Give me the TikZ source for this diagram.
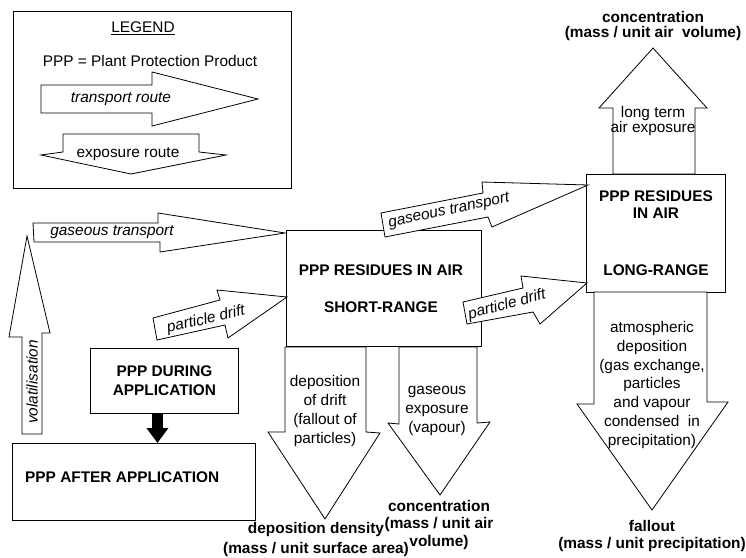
\documentclass[tikz,border=0pt]{standalone}
\usepackage{fontspec}
\setmainfont{Liberation Sans}
\usetikzlibrary{arrows.meta}
\begin{document}
\begin{tikzpicture}[x=1pt,y=-1pt,
  every node/.style={font=\fontsize{15.4}{19}\selectfont, inner sep=0pt, align=center},
  box/.style={draw, line width=0.9pt, fill=white},
  barrow/.style={draw, line width=0.8pt, fill=white, line join=miter},
  itl/.style={font=\fontsize{15.4}{19}\selectfont\itshape},
  bld/.style={font=\fontsize{15.4}{19}\selectfont\bfseries},
]
\useasboundingbox (0,0) rectangle (746,557);

% ---------- legend ----------
\node[box, minimum width=278, minimum height=177, anchor=north west] (legend) at (13,11) {};
\node (legtitle) at (143,28) {\underline{LEGEND}};
\node (legppp) at (150,61) {PPP = Plant Protection Product};
\draw[barrow] (41,85) -- (152,85) -- (152,72) -- (258,99) -- (152,126) -- (152,113) -- (41,113) -- cycle;
\node[itl] (legtr) at (121,99) {transport route};
\draw[barrow] (63,134) -- (199,134) -- (199,152) -- (226,155) -- (131,174) -- (41,155) -- (63,152) -- cycle;
\node (legex) at (128,154) {exposure route};

% ---------- boxes ----------
\node[box, minimum width=195, minimum height=116, anchor=north west] (sr) at (286,230) {};
\node[bld, font=\fontsize{15.4}{37}\selectfont\bfseries] (srtext) at ([xshift=-3pt]sr.center) {PPP RESIDUES IN AIR\\SHORT-RANGE};
\node[box, bld, minimum width=139, minimum height=118, anchor=north west,
      font=\fontsize{15.4}{16.5}\selectfont\bfseries] (lr) at (586,174) {PPP RESIDUES\\IN AIR\\[41pt]LONG-RANGE};
\node[box, bld, minimum width=148, minimum height=65, anchor=north west] (during) at (90,348) {PPP DURING\\APPLICATION};
\node[box, minimum width=243, minimum height=77, anchor=north west] (after) at (12,443) {};
\node[bld, anchor=west] (aftertext) at ([xshift=13pt, yshift=5pt]after.west) {PPP AFTER APPLICATION};

% application leads to residues on site
\draw[line width=11pt, -{Triangle[width=21pt, length=15pt]}]
  ([xshift=-7pt]during.south) -- ([xshift=-7pt]during.south |- after.north);

% ---------- transport routes ----------
\draw[barrow] (33,223) -- (158,223) -- (158,213) -- (285,233) -- (160,252) -- (160,242) -- (34,242) -- cycle;
\node[itl] (gt1) at (112,232) {gaseous transport};

\draw[barrow] (22,434) -- (22,337) -- (9,337) -- (27,236) -- (50,333) -- (42,333) -- (42,434) -- cycle;
\node[itl, rotate=90] (vol) at (32,382) {volatilisation};

\draw[barrow] (153,318) -- (220,300) -- (217,290) -- (287,297) -- (228,338) -- (225,325) -- (157,340) -- cycle;
\node[itl, rotate=13] (pd1) at (206,320) {particle drift};

\draw[barrow] (381,213) -- (483,193) -- (482,182) -- (588,185) -- (492,227) -- (488,217) -- (385,237) -- cycle;
\node[itl, rotate=12] (gt2) at (449,211) {gaseous transport};

\draw[barrow] (463,302) -- (523,288) -- (521,276) -- (587,283) -- (540,324) -- (533,312) -- (467,324) -- cycle;
\node[itl, rotate=15] (pd2) at (507,305) {particle drift};

% ---------- exposure routes ----------
\draw[barrow] (285,347) -- (366,347) -- (366,432) -- (380,433) -- (325,519) -- (268,432) -- (285,432) -- cycle;
\node (depdrift) at (325,411) {deposition\\of drift\\(fallout of\\particles)};

\draw[barrow] (399,347) -- (477,347) -- (477,423) -- (490,422) -- (440,495) -- (388,423) -- (399,424) -- cycle;
\node (gasexp) at (437,411) {gaseous\\exposure\\(vapour)};

\draw[barrow] (613,174) -- (613,108) -- (599,108) -- (653,48) -- (707,108) -- (695,108) -- (695,174) -- cycle;
\node[font=\fontsize{15.4}{13}\selectfont] (ltexp) at (653,121) {long term\\air exposure};

\draw[barrow] (594,292) -- (707,292) -- (707,402) -- (728,402) -- (652,510) -- (577,404) -- (594,404) -- cycle;
\node[font=\fontsize{15.4}{18.8}\selectfont] (atmdep) at (652,385) {atmospheric\\deposition\\(gas exchange,\\particles\\and vapour\\condensed\ \ in\\precipitation)};

% ---------- measured quantities ----------
\node[bld, font=\fontsize{15.4}{20}\selectfont\bfseries] (depdens) at (316,540) {deposition density\\(mass / unit surface area)};
\node[bld, font=\fontsize{15.4}{17.5}\selectfont\bfseries] (conc1) at (439,525) {concentration\\(mass / unit air\\volume)};
\node[bld, font=\fontsize{15.4}{15}\selectfont\bfseries] (conc2) at (653,26) {concentration\\(mass / unit air\ \ volume)};
\node[bld, font=\fontsize{15.4}{17}\selectfont\bfseries] (fallout) at (652,536) {fallout\\(mass / unit precipitation)};
\end{tikzpicture}
\end{document}
